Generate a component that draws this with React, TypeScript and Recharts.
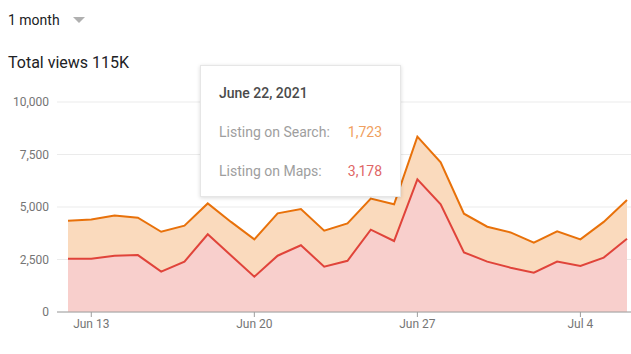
import { Area, CartesianGrid, ComposedChart, Line, Tooltip, XAxis, YAxis } from "recharts";

const days = [
  "Jun 12", "Jun 13", "Jun 14", "Jun 15", "Jun 16", "Jun 17", "Jun 18", "Jun 19", "Jun 20",
  "Jun 21", "Jun 22", "Jun 23", "Jun 24", "Jun 25", "Jun 26", "Jun 27", "Jun 28", "Jun 29",
  "Jun 30", "Jul 1", "Jul 2", "Jul 3", "Jul 4", "Jul 5", "Jul 6",
];
const fullDates = [
  "June 12, 2021", "June 13, 2021", "June 14, 2021", "June 15, 2021", "June 16, 2021", "June 17, 2021",
  "June 18, 2021", "June 19, 2021", "June 20, 2021", "June 21, 2021", "June 22, 2021", "June 23, 2021",
  "June 24, 2021", "June 25, 2021", "June 26, 2021", "June 27, 2021", "June 28, 2021", "June 29, 2021",
  "June 30, 2021", "July 1, 2021", "July 2, 2021", "July 3, 2021", "July 4, 2021", "July 5, 2021", "July 6, 2021",
];
const mapsViews = [
  2540, 2540, 2680, 2710, 1920, 2400, 3700, 2690, 1680, 2680, 3178, 2160, 2440, 3920, 3380, 6320, 5130,
  2840, 2400, 2110, 1870, 2400, 2190, 2590, 3490,
];
const searchViews = [
  1810, 1860, 1910, 1780, 1900, 1710, 1470, 1600, 1780, 2020, 1723, 1710, 1780, 1480, 1750, 2030, 2000,
  1840, 1660, 1680, 1430, 1440, 1270, 1700, 1840,
];
const xTicks = ["Jun 13", "Jun 20", "Jun 27", "Jul 4"];
const yTicks = [0, 2500, 5000, 7500, 10000];

const data = days.map((day, i) => ({
  day,
  full: fullDates[i],
  maps: mapsViews[i],
  search: searchViews[i],
}));

const font = "Roboto, Arial, sans-serif";

function ViewsTooltip({ payload }: any) {
  const row = payload?.[0]?.payload;
  if (!row) return null;
  return (
    <div
      style={{
        width: 201,
        height: 132,
        boxSizing: "border-box",
        background: "#fff",
        border: "1px solid #e6e6e6",
        boxShadow: "0 1px 4px rgba(0,0,0,0.15)",
        padding: "19px 18px",
        fontFamily: font,
        fontSize: 14,
        lineHeight: "17px",
      }}
    >
      <div style={{ fontWeight: 500, color: "#4a4a4a", marginBottom: 22 }}>{row.full}</div>
      <div style={{ display: "flex", justifyContent: "space-between", marginBottom: 22 }}>
        <span style={{ color: "#9e9e9e" }}>Listing on Search:</span>
        <span style={{ color: "#f0a060" }}>{row.search.toLocaleString("en-US")}</span>
      </div>
      <div style={{ display: "flex", justifyContent: "space-between" }}>
        <span style={{ color: "#9e9e9e" }}>Listing on Maps:</span>
        <span style={{ color: "#e06666" }}>{row.maps.toLocaleString("en-US")}</span>
      </div>
    </div>
  );
}

export default function App() {
  return (
    <div style={{ position: "absolute", left: 0, top: 0, width: 631, height: 354, background: "#fff", fontFamily: font }}>
      <div style={{ position: "absolute", left: 8, top: 12, fontSize: 14, color: "#202124", display: "flex", alignItems: "center" }}>
        1 month
        <span
          style={{
            marginLeft: 13,
            width: 0,
            height: 0,
            borderLeft: "6px solid transparent",
            borderRight: "6px solid transparent",
            borderTop: "6px solid #b0b0b0",
          }}
        />
      </div>
      <div style={{ position: "absolute", left: 8, top: 53, fontSize: 16, color: "#202124" }}>Total views 115K</div>
      <div style={{ position: "absolute", left: 0, top: 90 }}>
        <ComposedChart width={631} height={264} data={data} margin={{ top: 12, right: 0, bottom: 12, left: 0 }}>
          <CartesianGrid vertical={false} stroke="#ebebeb" />
          <XAxis
            dataKey="day"
            ticks={xTicks}
            padding={{ left: 11, right: 4 }}
            stroke="#9e9e9e"
            tickSize={5}
            tick={{ fontSize: 12, fill: "#757575", fontFamily: font }}
            height={30}
          />
          <YAxis
            domain={[0, 10000]}
            ticks={yTicks}
            width={57}
            axisLine={false}
            tickLine={false}
            tick={{ fontSize: 12, fill: "#757575", fontFamily: font }}
            tickFormatter={(v) => Number(v).toLocaleString("en-US")}
          />
          <Tooltip
            active
            defaultIndex={10}
            cursor={false}
            position={{ x: 200, y: -25 }}
            content={<ViewsTooltip />}
            isAnimationActive={false}
          />
          <Area
            type="linear"
            dataKey="maps"
            stackId="v"
            stroke="none"
            fill="#f8cfcc"
            fillOpacity={1}
            activeDot={false}
            isAnimationActive={false}
          />
          <Area
            type="linear"
            dataKey="search"
            stackId="v"
            stroke="#e8710a"
            strokeWidth={2}
            fill="#fadabd"
            fillOpacity={1}
            activeDot={false}
            isAnimationActive={false}
          />
          <Line
            type="linear"
            dataKey="maps"
            stroke="#e0443a"
            strokeWidth={2}
            dot={false}
            activeDot={false}
            isAnimationActive={false}
          />
        </ComposedChart>
      </div>
    </div>
  );
}
